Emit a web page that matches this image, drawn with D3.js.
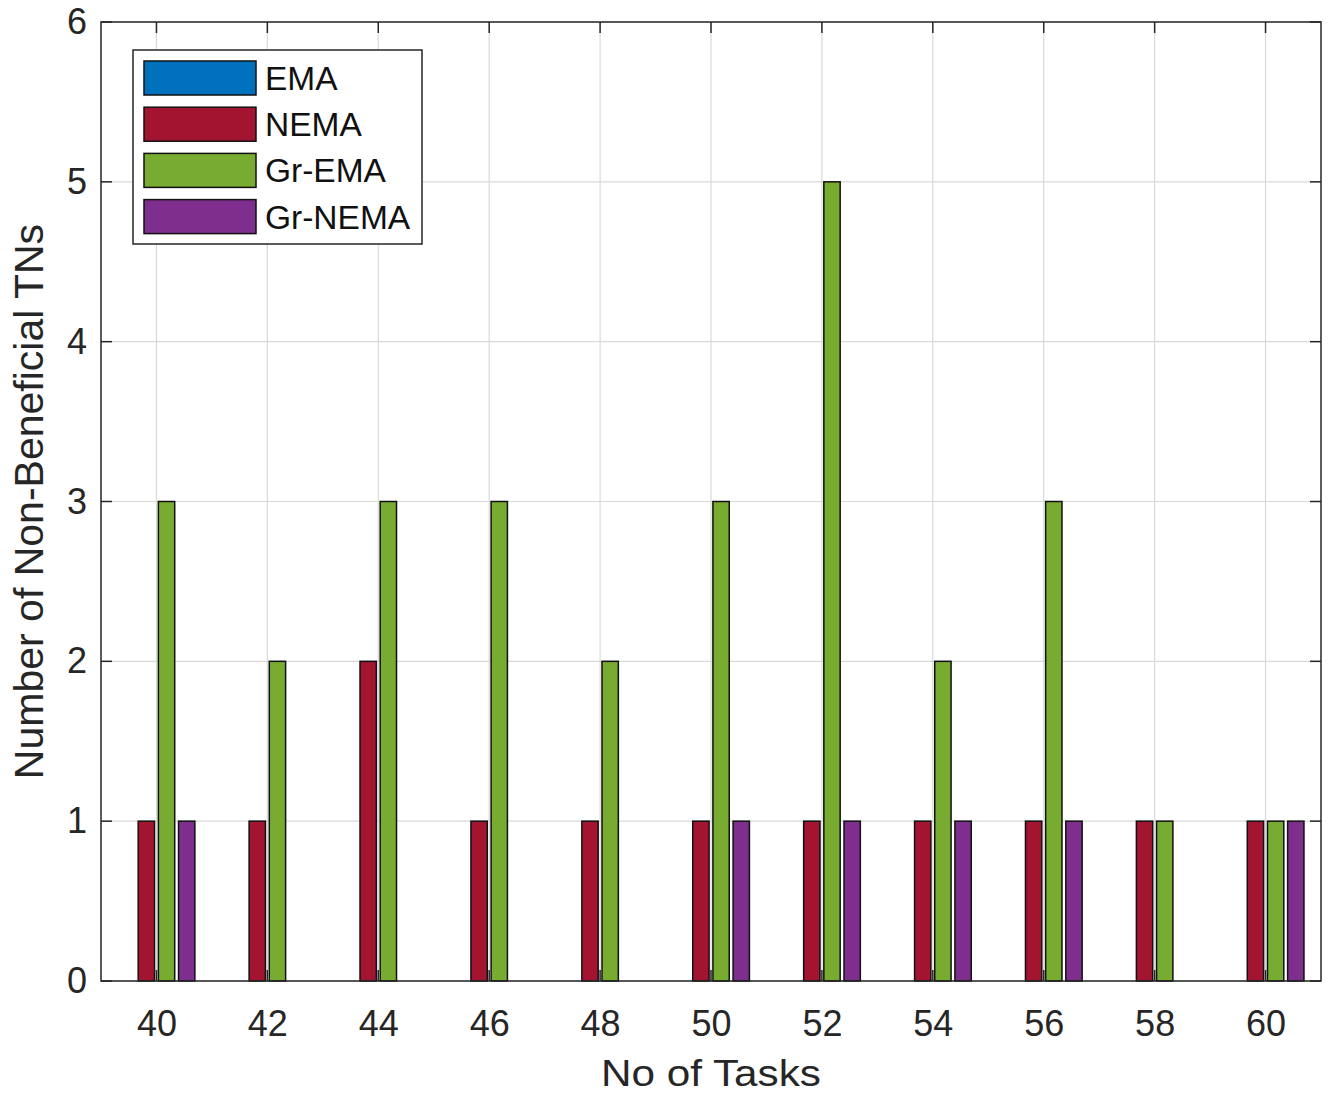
<!DOCTYPE html>
<html>
<head>
<meta charset="utf-8">
<script src="https://cdn.jsdelivr.net/npm/d3@7"></script>
<style>
  html, body { margin: 0; padding: 0; background: #fff; }
  svg { display: block; font-family: "Liberation Sans", Arial, Helvetica, sans-serif; }
</style>
</head>
<body>
<svg id="chart" width="1328" height="1094"></svg>
<script>
// Number of tasks on the x axis
const tasks = [40, 42, 44, 46, 48, 50, 52, 54, 56, 58, 60];

// Non-beneficial TN counts per method
const seriesNames = ["EMA", "NEMA", "Gr-EMA", "Gr-NEMA"];
const emaValues    = [0, 0, 0, 0, 0, 0, 0, 0, 0, 0, 0];
const nemaValues   = [1, 1, 2, 1, 1, 1, 1, 1, 1, 1, 1];
const grEmaValues  = [3, 2, 3, 3, 2, 3, 5, 2, 3, 1, 1];
const grNemaValues = [1, 0, 0, 0, 0, 1, 1, 1, 1, 0, 1];
const seriesColors = ["#0072BD", "#A2142F", "#77AC30", "#7E2F8E"];

const yTicks = [0, 1, 2, 3, 4, 5, 6];

const seriesValues = [emaValues, nemaValues, grEmaValues, grNemaValues];

const svg = d3.select("#chart");
const plot = { left: 101, right: 1321, top: 22, bottom: 981 };
const axisColor = "#262626";

const x = d3.scaleLinear().domain([39, 61]).range([plot.left, plot.right]);
const y = d3.scaleLinear().domain([0, 6]).range([plot.bottom, plot.top]);

// grouped-bar geometry in data units (spacing between tasks = 2)
const nSeries = seriesNames.length;
const groupWidth = Math.min(0.8, nSeries / (nSeries + 1.5)) * 2;
const pitch = groupWidth / nSeries;
const barW = pitch * 0.81;

// grid lines
const grid = svg.append("g");
grid.selectAll("line.gx").data(tasks).join("line")
  .attr("x1", d => x(d)).attr("x2", d => x(d))
  .attr("y1", plot.top).attr("y2", plot.bottom)
  .attr("stroke", "#d9d9d9").attr("stroke-width", 1.2);
grid.selectAll("line.gy").data(yTicks).join("line")
  .attr("x1", plot.left).attr("x2", plot.right)
  .attr("y1", d => y(d)).attr("y2", d => y(d))
  .attr("stroke", "#d9d9d9").attr("stroke-width", 1.2);

// inward tick marks (drawn beneath the bars)
const tickLen = 11;
const ticks = svg.append("g").attr("stroke", axisColor).attr("stroke-width", 1.5);
tasks.forEach(t => {
  ticks.append("line").attr("x1", x(t)).attr("x2", x(t)).attr("y1", plot.bottom).attr("y2", plot.bottom - tickLen);
  ticks.append("line").attr("x1", x(t)).attr("x2", x(t)).attr("y1", plot.top).attr("y2", plot.top + tickLen);
});
yTicks.forEach(v => {
  ticks.append("line").attr("x1", plot.left).attr("x2", plot.left + tickLen).attr("y1", y(v)).attr("y2", y(v));
  ticks.append("line").attr("x1", plot.right).attr("x2", plot.right - tickLen).attr("y1", y(v)).attr("y2", y(v));
});

// bars
seriesValues.forEach((vals, si) => {
  const off = (si - (nSeries - 1) / 2) * pitch;
  svg.append("g").selectAll("rect").data(tasks.map((t, i) => ({ t, v: vals[i] })))
    .join("rect")
    .attr("x", d => x(d.t + off - barW / 2))
    .attr("width", d => x(d.t + off + barW / 2) - x(d.t + off - barW / 2))
    .attr("y", d => y(d.v))
    .attr("height", d => y(0) - y(d.v))
    .attr("fill", seriesColors[si])
    .attr("stroke", "#111")
    .attr("stroke-width", 1.5);
});

// axes box
svg.append("rect")
  .attr("x", plot.left).attr("y", plot.top)
  .attr("width", plot.right - plot.left).attr("height", plot.bottom - plot.top)
  .attr("fill", "none").attr("stroke", axisColor).attr("stroke-width", 1.5);

// tick labels via d3 axes (lines hidden, text kept)
const xAxis = svg.append("g")
  .attr("transform", `translate(0,${plot.bottom})`)
  .call(d3.axisBottom(x).tickValues(tasks).tickFormat(d3.format("d")).tickSize(0).tickPadding(29));
const yAxis = svg.append("g")
  .attr("transform", `translate(${plot.left},0)`)
  .call(d3.axisLeft(y).tickValues(yTicks).tickFormat(d3.format("d")).tickSize(0).tickPadding(14));
[xAxis, yAxis].forEach(a => {
  a.select(".domain").remove();
  a.selectAll("text").attr("fill", axisColor).style("font-size", "36px")
    .style("font-family", '"Liberation Sans", Arial, sans-serif');
});
xAxis.selectAll("text").attr("dy", "0.71em");

// axis titles
svg.append("text")
  .attr("x", (plot.left + plot.right) / 2).attr("y", 1086)
  .attr("text-anchor", "middle").attr("fill", axisColor)
  .attr("textLength", 220).attr("lengthAdjust", "spacingAndGlyphs")
  .style("font-size", "37.5px").text("No of Tasks");
svg.append("text")
  .attr("transform", `translate(43,${(plot.top + plot.bottom) / 2}) rotate(-90)`)
  .attr("text-anchor", "middle").attr("fill", axisColor)
  .style("font-size", "41px").text("Number of Non-Beneficial TNs");

// legend
const legend = svg.append("g");
legend.append("rect")
  .attr("x", 133).attr("y", 50).attr("width", 289).attr("height", 194)
  .attr("fill", "#fff").attr("stroke", axisColor).attr("stroke-width", 1.5);
seriesNames.forEach((name, i) => {
  const cy = 78 + i * 46.2;
  legend.append("rect")
    .attr("x", 144).attr("y", cy - 17).attr("width", 112).attr("height", 34)
    .attr("fill", seriesColors[i]).attr("stroke", "#111").attr("stroke-width", 1.5);
  legend.append("text")
    .attr("x", 265).attr("y", cy).attr("dy", "0.36em")
    .attr("fill", "#111").style("font-size", "33.5px").text(name);
});
</script>
</body>
</html>
